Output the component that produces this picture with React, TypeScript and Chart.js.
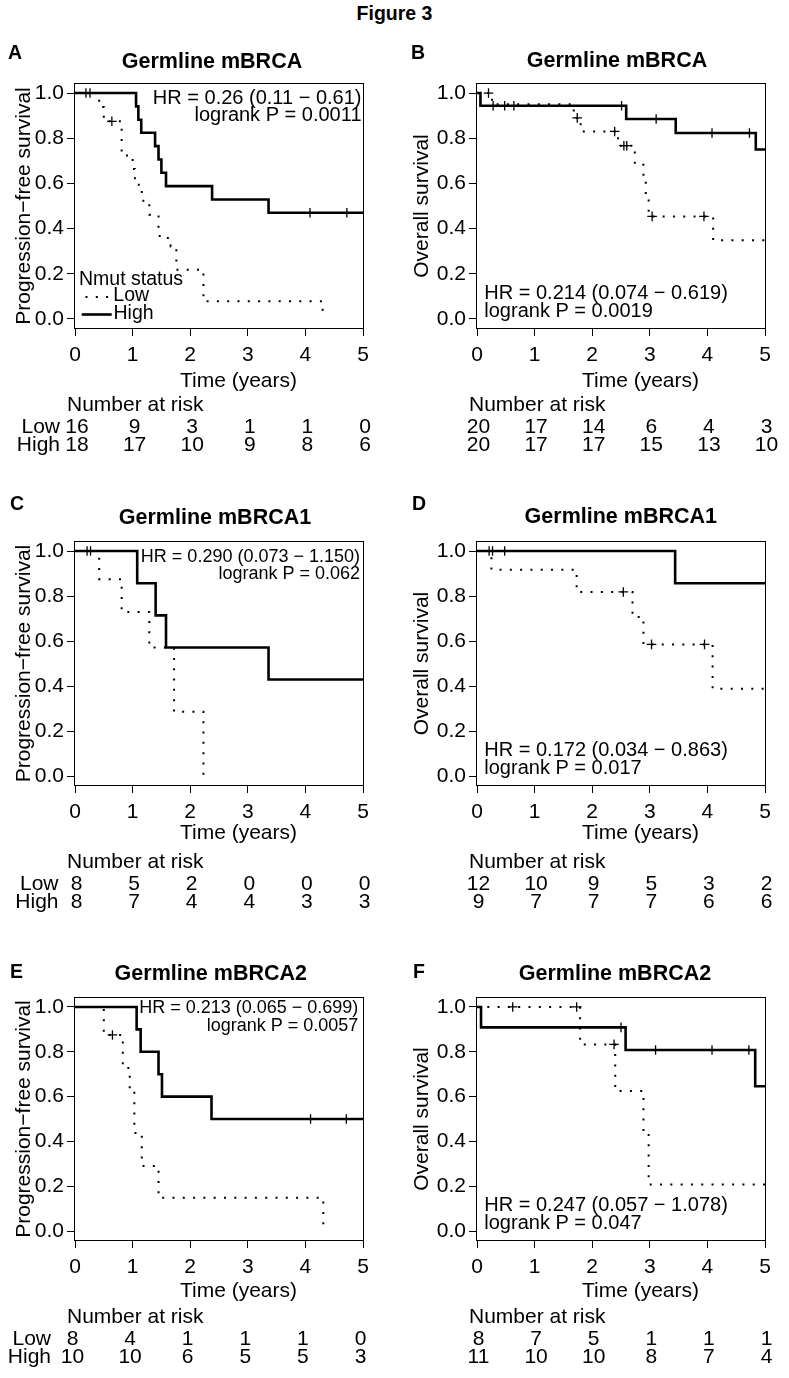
import React, { useEffect, useRef } from "react";
import { Chart, registerables } from "chart.js";

Chart.register(...registerables);

const FONT = "'Liberation Sans', Arial, Helvetica, sans-serif";

// ---------- shared axis values ----------
const xTickValues = [0, 1, 2, 3, 4, 5];
const yTickValues = [0, 0.2, 0.4, 0.6, 0.8, 1.0];
const riskTimes = [0, 1, 2, 3, 4, 5];

// ---------- Panel A: PFS, germline mBRCA ----------
const aLowTimes = [0, 0.42, 0.5, 0.81, 1.0, 1.04, 1.16, 1.29, 1.45, 1.47, 1.66, 1.76, 2.23, 4.3];
const aLowSurv = [1, 0.938, 0.875, 0.724, 0.664, 0.594, 0.523, 0.461, 0.403, 0.358, 0.321, 0.218, 0.078, 0];
const aLowCensor = [0.26, 0.64];
const aHighTimes = [0, 1.06, 1.1, 1.15, 1.39, 1.45, 1.5, 1.58, 2.38, 3.36, 5];
const aHighSurv = [1, 0.941, 0.882, 0.824, 0.765, 0.706, 0.647, 0.588, 0.529, 0.47, 0.47];
const aHighCensor = [0.19, 4.08, 4.72];
const aRiskLow = [16, 9, 3, 1, 1, 0];
const aRiskHigh = [18, 17, 10, 9, 8, 6];

// ---------- Panel B: OS, germline mBRCA ----------
const bLowTimes = [0, 0.26, 1.68, 1.8, 2.45, 2.74, 2.89, 2.93, 2.98, 4.1, 5];
const bLowSurv = [1, 0.95, 0.89, 0.83, 0.767, 0.683, 0.61, 0.53, 0.454, 0.348, 0.348];
const bLowCensor = [0.2, 1.74, 2.39, 2.55, 2.6, 3.04, 3.94];
const bHighTimes = [0, 0.06, 2.59, 3.45, 4.84, 5];
const bHighSurv = [1, 0.944, 0.885, 0.823, 0.75, 0.75];
const bHighCensor = [0.28, 0.48, 0.64, 2.51, 3.11, 4.08, 4.73];
const bRiskLow = [20, 17, 14, 6, 4, 3];
const bRiskHigh = [20, 17, 17, 15, 13, 10];

// ---------- Panel C: PFS, germline mBRCA1 ----------
const cLowTimes = [0, 0.42, 0.81, 1.29, 1.72, 2.23];
const cLowSurv = [1, 0.875, 0.729, 0.571, 0.286, 0];
const cLowCensor = [0.27];
const cHighTimes = [0, 1.08, 1.4, 1.58, 3.36, 5];
const cHighSurv = [1, 0.857, 0.714, 0.571, 0.429, 0.429];
const cHighCensor = [0.21];
const cRiskLow = [8, 5, 2, 0, 0, 0];
const cRiskHigh = [8, 7, 4, 4, 3, 3];

// ---------- Panel D: OS, germline mBRCA1 ----------
const dLowTimes = [0, 0.25, 1.73, 2.7, 2.89, 4.09, 5];
const dLowSurv = [1, 0.917, 0.818, 0.707, 0.585, 0.388, 0.388];
const dLowCensor = [0.21, 2.54, 3.03, 3.95];
const dHighTimes = [0, 3.44, 5];
const dHighSurv = [1, 0.857, 0.857];
const dHighCensor = [0.27, 0.48];
const dRiskLow = [12, 10, 9, 5, 3, 2];
const dRiskHigh = [9, 7, 7, 7, 6, 6];

// ---------- Panel E: PFS, germline mBRCA2 ----------
const eLowTimes = [0, 0.5, 0.83, 0.95, 1.03, 1.16, 1.45, 4.31];
const eLowSurv = [1, 0.875, 0.728, 0.617, 0.438, 0.29, 0.148, 0];
const eLowCensor = [0.65];
const eHighTimes = [0, 1.07, 1.14, 1.45, 1.51, 2.37, 5];
const eHighSurv = [1, 0.9, 0.8, 0.7, 0.6, 0.5, 0.5];
const eHighCensor = [4.09, 4.71];
const eRiskLow = [8, 4, 1, 1, 1, 0];
const eRiskHigh = [10, 10, 6, 5, 5, 3];

// ---------- Panel F: OS, germline mBRCA2 ----------
const fLowTimes = [0, 1.79, 2.4, 2.89, 2.98, 5];
const fLowSurv = [1, 0.833, 0.625, 0.44, 0.208, 0.208];
const fLowCensor = [0.62, 1.73, 2.38];
const fHighTimes = [0, 0.07, 2.58, 4.83, 5];
const fHighSurv = [1, 0.909, 0.808, 0.646, 0.646];
const fHighCensor = [2.5, 3.1, 4.08, 4.72];
const fRiskLow = [8, 7, 5, 1, 1, 1];
const fRiskHigh = [11, 10, 10, 8, 7, 4];

const PFS_TITLE = "Progression\u2212free survival";
const OS_TITLE = "Overall survival";

type Spec = {
  letter: string; letterX: number; letterY: number;
  title: string; titleX: number; titleY: number;
  cx: number; cy: number; w: number; h: number;
  L: number; T: number; R: number; B: number;
  yTitle: string; yTitleX: number;
  lowT: number[]; lowS: number[]; lowC: number[];
  highT: number[]; highS: number[]; highC: number[];
  riskLow: number[]; riskHigh: number[];
  hr: string[]; hrMode: "tr" | "bl"; hrSize: number; hrInset: number; hrDy: number[];
  xTitleDy: number; tableDx: number; rowLabelRight: number | null; legend: boolean;
};

const specs: Spec[] = [
  {
    letter: "A", letterX: 8, letterY: 54, title: "Germline mBRCA", titleX: 212, titleY: 61.7,
    cx: 0, cy: 0, w: 394, h: 460, L: 75, T: 84, R: 363, B: 328,
    yTitle: PFS_TITLE, yTitleX: 24,
    lowT: aLowTimes, lowS: aLowSurv, lowC: aLowCensor, highT: aHighTimes, highS: aHighSurv, highC: aHighCensor,
    riskLow: aRiskLow, riskHigh: aRiskHigh,
    hr: ["HR = 0.26 (0.11 \u2212 0.61)", "logrank P = 0.0011"], hrMode: "tr", hrSize: 20, hrInset: 1.5, hrDy: [14.7, 31.6],
    xTitleDy: 53, tableDx: 2, rowLabelRight: 60, legend: true,
  },
  {
    letter: "B", letterX: 411, letterY: 54, title: "Germline mBRCA", titleX: 617, titleY: 61.3,
    cx: 394, cy: 0, w: 395, h: 460, L: 477, T: 84, R: 765, B: 328,
    yTitle: OS_TITLE, yTitleX: 422,
    lowT: bLowTimes, lowS: bLowSurv, lowC: bLowCensor, highT: bHighTimes, highS: bHighSurv, highC: bHighCensor,
    riskLow: bRiskLow, riskHigh: bRiskHigh,
    hr: ["HR = 0.214 (0.074 \u2212 0.619)", "logrank P = 0.0019"], hrMode: "bl", hrSize: 20, hrInset: 7.3, hrDy: [-34.4, -16.4],
    xTitleDy: 53, tableDx: 1.5, rowLabelRight: null, legend: false,
  },
  {
    letter: "C", letterX: 10, letterY: 505, title: "Germline mBRCA1", titleX: 215, titleY: 518.3,
    cx: 0, cy: 460, w: 394, h: 465, L: 75, T: 542, R: 363, B: 785,
    yTitle: PFS_TITLE, yTitleX: 24,
    lowT: cLowTimes, lowS: cLowSurv, lowC: cLowCensor, highT: cHighTimes, highS: cHighSurv, highC: cHighCensor,
    riskLow: cRiskLow, riskHigh: cRiskHigh,
    hr: ["HR = 0.290 (0.073 \u2212 1.150)", "logrank P = 0.062"], hrMode: "tr", hrSize: 18, hrInset: 3, hrDy: [14.7, 31.8],
    xTitleDy: 48.5, tableDx: 1.5, rowLabelRight: 58.5, legend: false,
  },
  {
    letter: "D", letterX: 412, letterY: 505, title: "Germline mBRCA1", titleX: 620.8, titleY: 517,
    cx: 394, cy: 460, w: 395, h: 465, L: 477, T: 542, R: 765, B: 785,
    yTitle: OS_TITLE, yTitleX: 422,
    lowT: dLowTimes, lowS: dLowSurv, lowC: dLowCensor, highT: dHighTimes, highS: dHighSurv, highC: dHighCensor,
    riskLow: dRiskLow, riskHigh: dRiskHigh,
    hr: ["HR = 0.172 (0.034 \u2212 0.863)", "logrank P = 0.017"], hrMode: "bl", hrSize: 20, hrInset: 7.3, hrDy: [-34.4, -16.4],
    xTitleDy: 48.5, tableDx: 1.5, rowLabelRight: null, legend: false,
  },
  {
    letter: "E", letterX: 10, letterY: 973, title: "Germline mBRCA2", titleX: 210.8, titleY: 973.7,
    cx: 0, cy: 925, w: 394, h: 453, L: 75, T: 998, R: 363, B: 1240,
    yTitle: PFS_TITLE, yTitleX: 24,
    lowT: eLowTimes, lowS: eLowSurv, lowC: eLowCensor, highT: eHighTimes, highS: eHighSurv, highC: eHighCensor,
    riskLow: eRiskLow, riskHigh: eRiskHigh,
    hr: ["HR = 0.213 (0.065 \u2212 0.699)", "logrank P = 0.0057"], hrMode: "tr", hrSize: 18, hrInset: 4.7, hrDy: [9.8, 28.2],
    xTitleDy: 51.5, tableDx: -2.5, rowLabelRight: 51, legend: false,
  },
  {
    letter: "F", letterX: 413, letterY: 973, title: "Germline mBRCA2", titleX: 615, titleY: 973.7,
    cx: 394, cy: 925, w: 395, h: 453, L: 477, T: 998, R: 765, B: 1240,
    yTitle: OS_TITLE, yTitleX: 422,
    lowT: fLowTimes, lowS: fLowSurv, lowC: fLowCensor, highT: fHighTimes, highS: fHighSurv, highC: fHighCensor,
    riskLow: fRiskLow, riskHigh: fRiskHigh,
    hr: ["HR = 0.247 (0.057 \u2212 1.078)", "logrank P = 0.047"], hrMode: "bl", hrSize: 20, hrInset: 7.3, hrDy: [-34.5, -16.5],
    xTitleDy: 51.5, tableDx: 1.5, rowLabelRight: null, legend: false,
  },
];

function survAt(times: number[], surv: number[], t: number) {
  let s = surv[0];
  for (let i = 0; i < times.length; i++) if (times[i] <= t) s = surv[i];
  return s;
}

const X_HEIGHT = 40;
const DOT_DASH = [2, 8.3];

function decorPlugin(p: Spec) {
  return {
    id: "decor" + p.letter,
    afterDraw(chart: any) {
      const ctx = chart.ctx as CanvasRenderingContext2D;
      const ca = chart.chartArea;
      const xs = chart.scales.x;
      const ox = p.cx, oy = p.cy;
      ctx.save();
      ctx.setLineDash([]);
      ctx.strokeStyle = "#000";
      ctx.lineWidth = 1;
      ctx.strokeRect(ca.left - 0.5, ca.top - 0.5, ca.right - ca.left + 1, ca.bottom - ca.top + 1);

      ctx.fillStyle = "#000";
      ctx.textBaseline = "middle";

      // panel letter
      ctx.font = `bold 19.5px ${FONT}`;
      ctx.textAlign = "left";
      ctx.fillText(p.letter, p.letterX - ox, p.letterY - oy);

      // panel title
      ctx.font = `bold 21.5px ${FONT}`;
      ctx.textAlign = "center";
      ctx.fillText(p.title, p.titleX - ox, p.titleY - oy);

      // HR / logrank annotation
      ctx.font = `${p.hrSize}px ${FONT}`;
      if (p.hrMode === "tr") {
        ctx.textAlign = "right";
        ctx.fillText(p.hr[0], ca.right - p.hrInset, ca.top + p.hrDy[0]);
        ctx.fillText(p.hr[1], ca.right - p.hrInset, ca.top + p.hrDy[1]);
      } else {
        ctx.textAlign = "left";
        ctx.fillText(p.hr[0], ca.left + p.hrInset, ca.bottom + p.hrDy[0]);
        ctx.fillText(p.hr[1], ca.left + p.hrInset, ca.bottom + p.hrDy[1]);
      }

      // x axis title
      ctx.font = `21px ${FONT}`;
      ctx.textAlign = "center";
      ctx.fillText("Time (years)", ca.left + 163.5, ca.bottom + p.xTitleDy);

      // number at risk table
      ctx.textAlign = "left";
      ctx.fillText("Number at risk", ca.left - 8, ca.bottom + 77);
      const rowY = [ca.bottom + 99.7, ca.bottom + 117];
      if (p.rowLabelRight !== null) {
        ctx.textAlign = "right";
        ctx.fillText("Low", p.rowLabelRight - ox, rowY[0]);
        ctx.fillText("High", p.rowLabelRight - ox, rowY[1]);
      }
      ctx.textAlign = "center";
      riskTimes.forEach((t, i) => {
        const x = xs.getPixelForValue(t) + p.tableDx;
        ctx.fillText(String(p.riskLow[i]), x, rowY[0]);
        ctx.fillText(String(p.riskHigh[i]), x, rowY[1]);
      });

      // legend (panel A only)
      if (p.legend) {
        ctx.font = `19.5px ${FONT}`;
        ctx.textAlign = "left";
        ctx.fillText("Nmut status", 79 - ox, 280 - oy);
        ctx.fillText("Low", 113.3 - ox, 296 - oy);
        ctx.fillText("High", 113.5 - ox, 314 - oy);
        ctx.lineCap = "butt";
        ctx.setLineDash(DOT_DASH);
        ctx.lineWidth = 2;
        ctx.beginPath();
        ctx.moveTo(85.5 - ox, 297 - oy);
        ctx.lineTo(111 - ox, 297 - oy);
        ctx.stroke();
        ctx.setLineDash([]);
        ctx.lineWidth = 2.6;
        ctx.beginPath();
        ctx.moveTo(81.7 - ox, 314.5 - oy);
        ctx.lineTo(111.7 - ox, 314.5 - oy);
        ctx.stroke();
      }
      ctx.restore();
    },
  };
}

function buildConfig(p: Spec): any {
  const toPts = (ts: number[], ss: number[]) => ts.map((t, i) => ({ x: t, y: ss[i] }));
  const censorPts = (cs: number[], ts: number[], ss: number[]) => cs.map((c) => ({ x: c, y: survAt(ts, ss, c) }));
  const yWidth = p.L - p.cx - 2;
  const titlePadTop = p.yTitleX - (p.cx + 2) - 12.6;
  const gridOpts = { display: true, drawOnChartArea: false, drawTicks: true, tickLength: 8, tickColor: "#000", tickWidth: 1 };
  const censorStyle = {
    type: "line", showLine: false, pointStyle: "cross", pointRadius: 4.8, pointHoverRadius: 4.8,
    pointBorderWidth: 1.3, pointBorderColor: "#000", pointBackgroundColor: "#000", borderColor: "#000",
  };
  return {
    type: "line",
    data: {
      datasets: [
        {
          label: "High", data: toPts(p.highT, p.highS), stepped: true, borderColor: "#000", borderWidth: 2.6,
          pointRadius: 0, fill: false, borderCapStyle: "butt", tension: 0,
        },
        {
          label: "Low", data: toPts(p.lowT, p.lowS), stepped: true, borderColor: "#000", borderWidth: 2,
          borderDash: DOT_DASH, borderCapStyle: "butt", pointRadius: 0, fill: false, tension: 0,
        },
        { label: "High censored", data: censorPts(p.highC, p.highT, p.highS), ...censorStyle },
        { label: "Low censored", data: censorPts(p.lowC, p.lowT, p.lowS), ...censorStyle },
      ],
    },
    options: {
      animation: false,
      responsive: false,
      devicePixelRatio: 1,
      events: [],
      layout: {
        padding: { left: 2, top: p.T - p.cy, right: p.cx + p.w - p.R, bottom: p.cy + p.h - p.B - X_HEIGHT },
      },
      plugins: { legend: { display: false }, tooltip: { enabled: false }, title: { display: false } },
      scales: {
        x: {
          type: "linear", min: 0, max: 5,
          afterBuildTicks: (s: any) => { s.ticks = xTickValues.map((v) => ({ value: v })); },
          afterFit: (s: any) => { s.height = X_HEIGHT; },
          grid: gridOpts,
          border: { display: false },
          ticks: {
            color: "#000", font: { family: FONT, size: 21 }, padding: 6.4, maxRotation: 0, autoSkip: false,
            callback: (v: any) => String(v),
          },
        },
        y: {
          type: "linear", min: -0.04, max: 1.04,
          afterBuildTicks: (s: any) => { s.ticks = yTickValues.map((v) => ({ value: v })); },
          afterFit: (s: any) => { s.width = yWidth; },
          grid: gridOpts,
          border: { display: false },
          ticks: {
            color: "#000", font: { family: FONT, size: 21 }, padding: 3,
            callback: (v: any) => Number(v).toFixed(1),
          },
          title: {
            display: true, text: p.yTitle, color: "#000", font: { family: FONT, size: 21 },
            padding: { top: titlePadTop, bottom: 0 },
          },
        },
      },
    },
    plugins: [decorPlugin(p)],
  };
}

function Panel({ spec }: { spec: Spec }) {
  const ref = useRef<HTMLCanvasElement>(null);
  useEffect(() => {
    const chart = new Chart(ref.current as HTMLCanvasElement, buildConfig(spec));
    return () => chart.destroy();
  }, [spec]);
  return (
    <canvas
      ref={ref}
      width={spec.w}
      height={spec.h}
      style={{ position: "absolute", left: spec.cx, top: spec.cy, width: spec.w, height: spec.h, display: "block" }}
    />
  );
}

export default function App() {
  useEffect(() => {
    document.body.style.margin = "0";
  }, []);
  return (
    <div style={{ position: "absolute", left: 0, top: 0, width: 789, height: 1378, background: "#fff", overflow: "hidden" }}>
      <div
        style={{
          position: "absolute", left: 0, top: 3, width: 789, textAlign: "center",
          font: `bold 19.5px ${FONT}`, lineHeight: "20px", color: "#000",
        }}
      >
        Figure 3
      </div>
      {specs.map((s) => (
        <Panel key={s.letter} spec={s} />
      ))}
    </div>
  );
}
